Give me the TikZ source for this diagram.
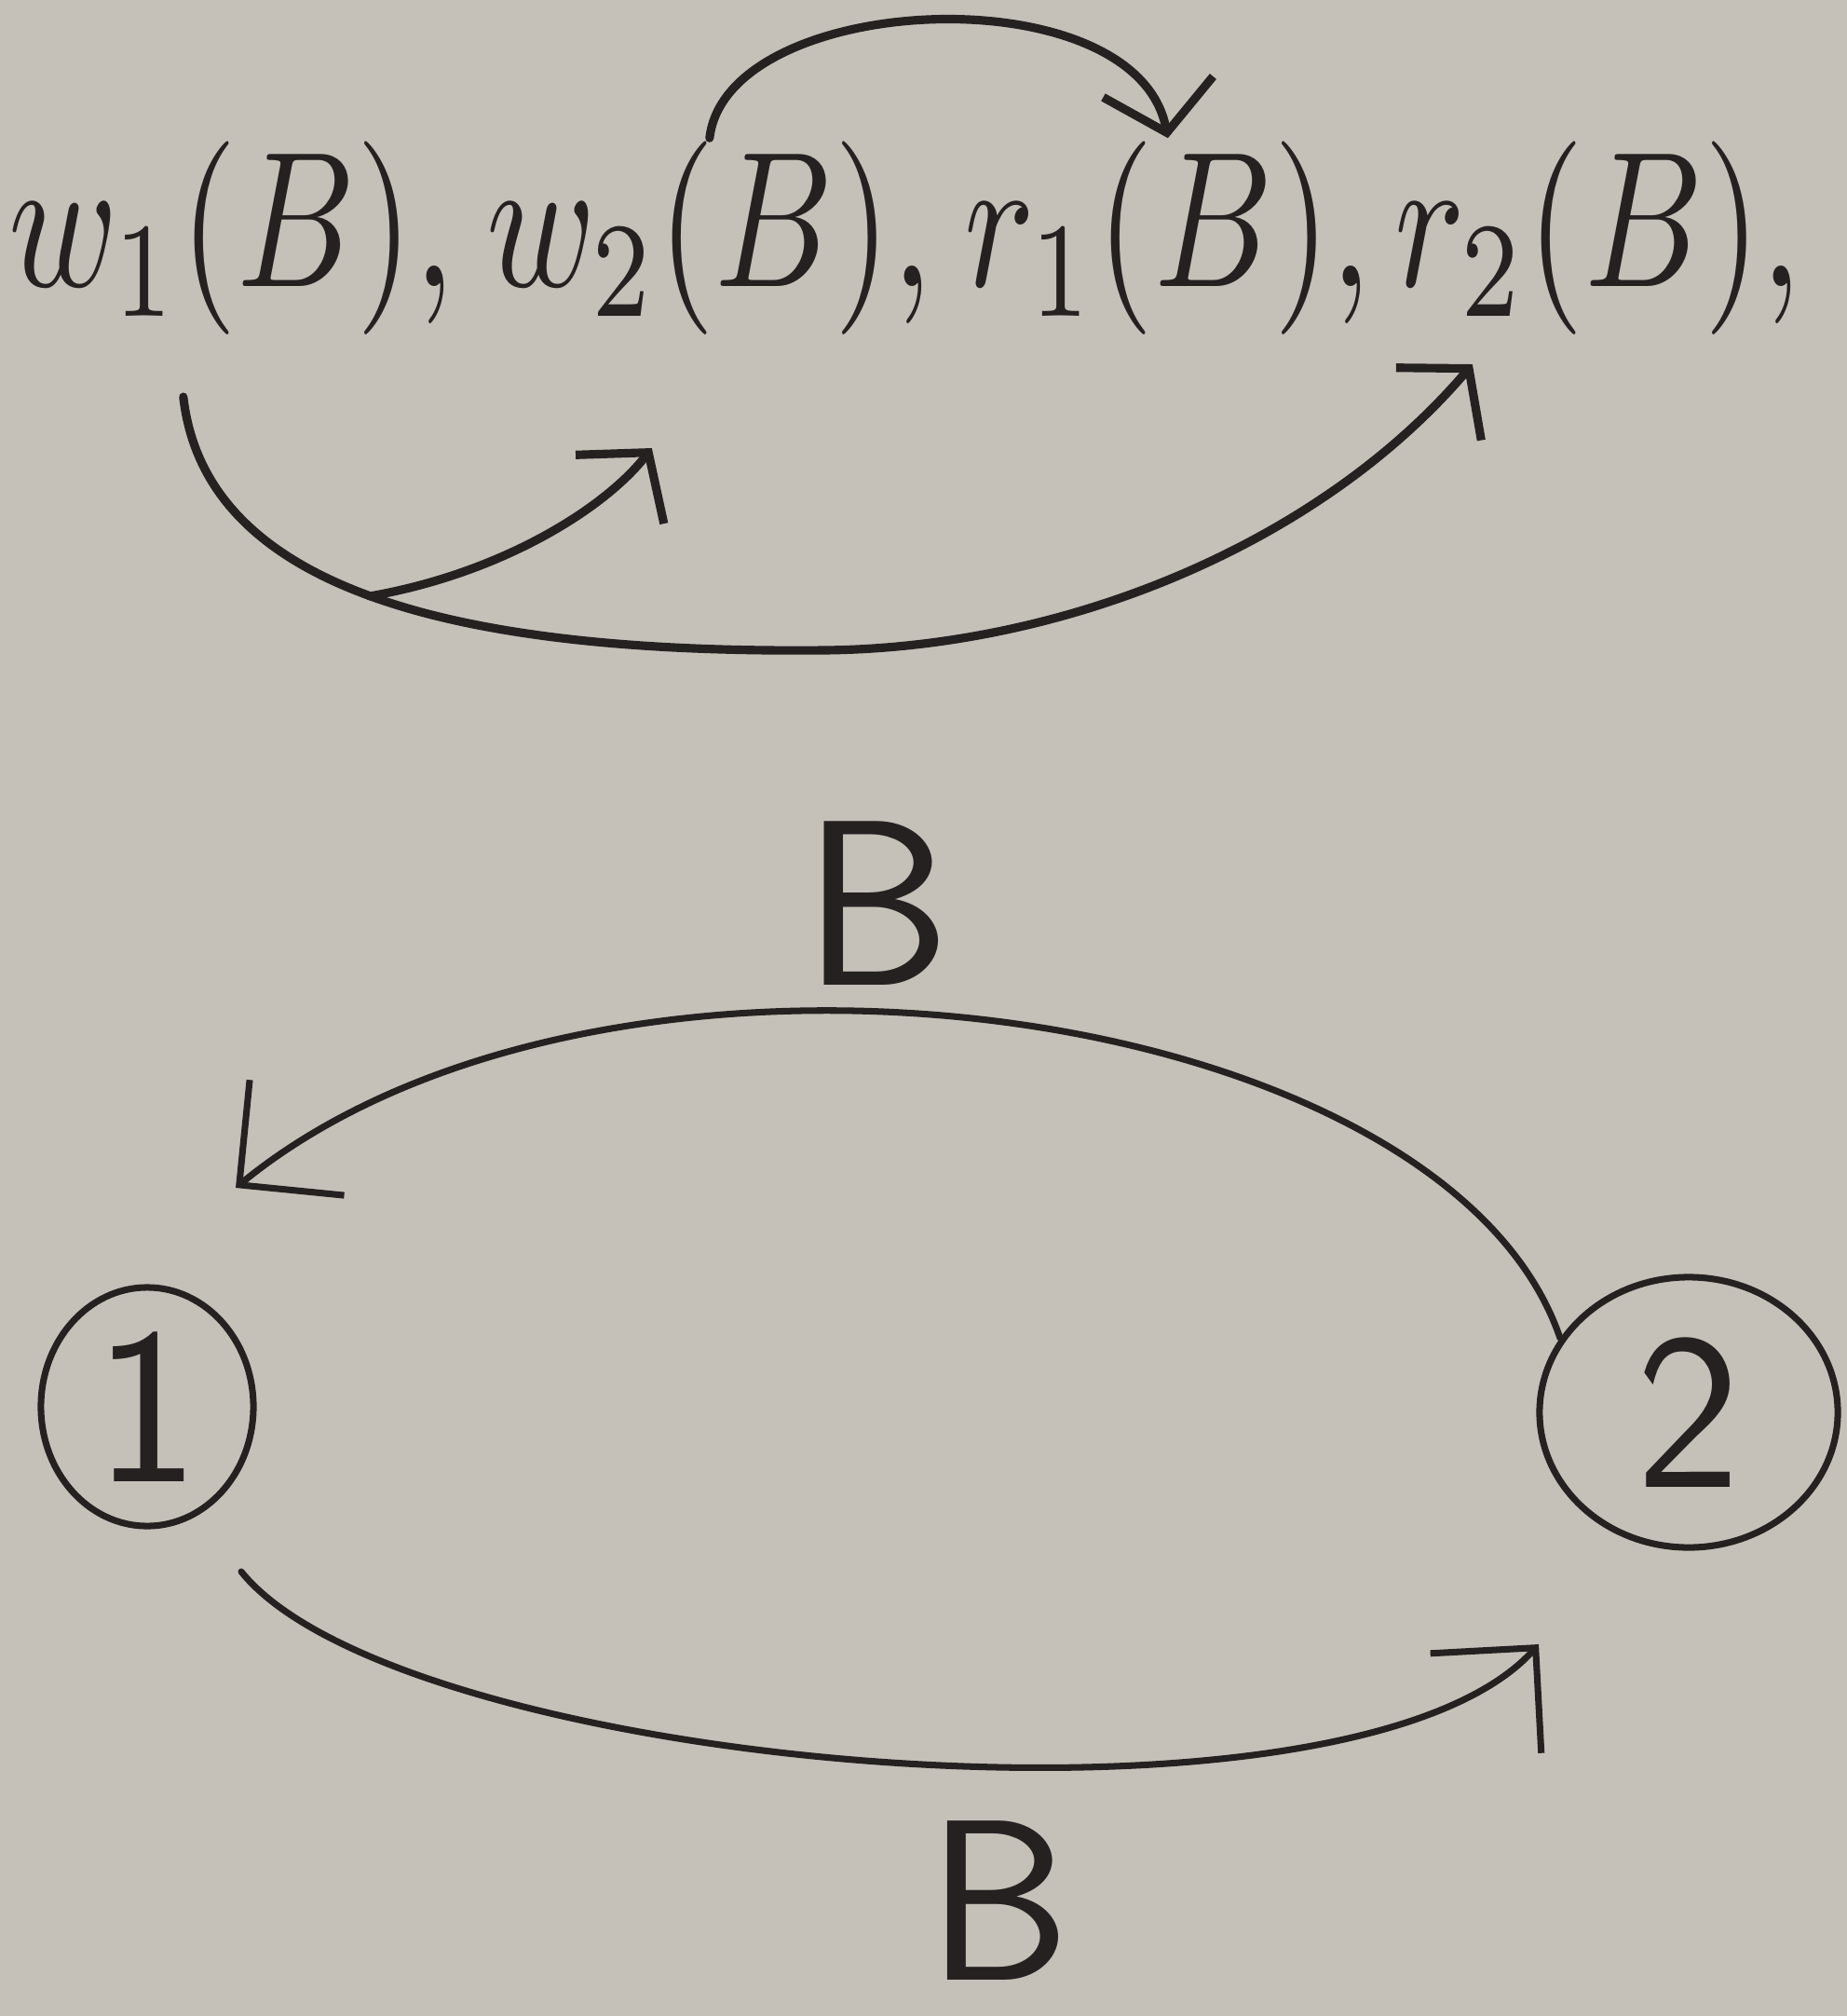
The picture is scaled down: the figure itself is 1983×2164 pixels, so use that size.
\documentclass[tikz,border=0pt]{standalone}
\usepackage{xcolor}
\usepackage{tikz}
\usetikzlibrary{arrows.meta, shapes.geometric}
\definecolor{paper}{RGB}{197, 192, 184}
\definecolor{ink}{RGB}{38, 33, 33}

\begin{document}
\begin{tikzpicture}[
    x=0.01cm, y=-0.01cm,
    term/.style={anchor=base west, inner sep=0pt, xscale=4.5, yscale=5.9, text=ink},
    txnode/.style={ellipse, draw=ink, line width=2pt, inner sep=0pt, font=\fontsize{68}{72}\selectfont\sffamily, text=ink},
    hand/.style={inner sep=0pt, font=\fontsize{72}{80}\selectfont\sffamily, text=ink},
    conf/.style={-{Straight Barb[length=5mm, width=12mm]}, line width=2.6pt, draw=ink, line cap=round},
    link/.style={-{Straight Barb[length=8mm, width=16mm]}, line width=2pt, draw=ink, line cap=round}
]
    % Paper
    \fill[paper] (0,0) rectangle (1983,2164);
    \useasboundingbox (0,0) rectangle (1983,2164);

    % Schedule
    \node[term] (w1) at (6,308) {$w_1(B),$};
    \node[term] (w2) at (519,308) {$w_2(B),$};
    \node[term] (r1) at (1032,308) {$r_1(B),$};
    \node[term] (r2) at (1494,308) {$r_2(B),$};

    % Conflicts
    \coordinate (w1low) at ([shift={(-52,62)}]w1.south);
    \coordinate (split) at (397,640);
    \draw[conf] (w2.north) .. controls (780,-10) and (1220,-30) .. (r1.north);
    \draw[conf] (w1low) .. controls (220,630) and (480,702) .. (886,698)
        .. controls (1150,695) and (1420,580) .. ([shift={(-135,27)}]r2.south);
    \draw[conf] (split) .. controls (540,615) and (650,545) .. ([shift={(-62,117)}]w2.south);

    % Precedence graph
    \node[txnode, minimum width=2.28cm, minimum height=2.56cm] (n1) at (158,1510) {1};
    \node[txnode, minimum width=3.2cm, minimum height=2.9cm] (n2) at (1813,1516) {2};
    \coordinate (tip1) at ([shift={(95,-235)}]n1.center);
    \coordinate (low1) at ([shift={(101,177)}]n1.center);
    \coordinate (tip2) at ([shift={(-161,249)}]n2.center);

    \draw[link] (n2.150) .. controls (1550,1070) and (650,950) .. (tip1);
    \draw[link] (low1) .. controls (430,1900) and (1450,1990) .. (tip2);
    \node[hand] (btop) at (942,970) {B};
    \node[hand, font=\fontsize{70}{76}\selectfont\sffamily] (bbot) at (1073,2040) {B};
\end{tikzpicture}
\end{document}
